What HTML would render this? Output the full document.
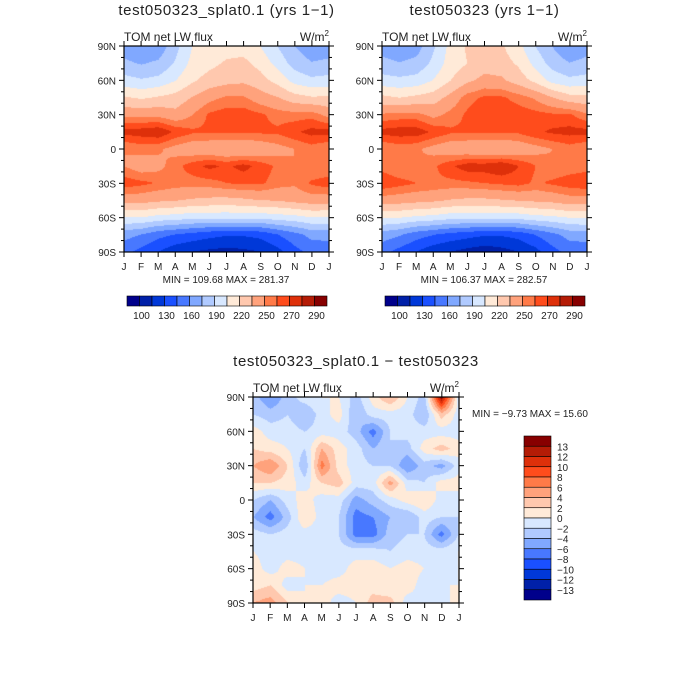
<!DOCTYPE html>
<html><head><meta charset="utf-8">
<style>
html,body{margin:0;padding:0;background:#fff;}
#wrap{position:relative;width:700px;height:700px;overflow:hidden;}
canvas{position:absolute;}
svg{position:absolute;left:0;top:0;}
text{font-family:"Liberation Sans",sans-serif;fill:#222;}
</style></head>
<body>
<div id="wrap">
<canvas id="c1" width="205" height="206" style="left:124px;top:46px"></canvas>
<canvas id="c2" width="205" height="206" style="left:382px;top:46px"></canvas>
<canvas id="c3" width="206" height="206" style="left:253px;top:397px"></canvas>
<svg id="s" width="700" height="700"></svg>
</div>
<script>
const months = ["J","F","M","A","M","J","J","A","S","O","N","D","J"];
const latLabels = ["90N","60N","30N","0","30S","60S","90S"];
const colors = ['#00008b','#0020a8','#0038d8','#1a50ff','#4878ff','#80a8ff','#b0caff','#d8e8ff','#ffead8','#ffc8ae','#ffa27c','#ff7a48','#ff4c1c','#de300a','#b41c06','#870000'];
const levelsAbs = [100,115,130,145,160,175,190,205,220,235,250,260,270,280,290];
const absLabels = ["100","130","160","190","220","250","270","290"];
const levelsDiff = [-13,-12,-10,-8,-6,-4,-2,0,2,4,6,8,10,12,13];
const diffLabels = ["13","12","10","8","6","4","2","0","-2","-4","-6","-8","-10","-12","-13"];
// rows: 90N..90S every 15 deg; cols Jan..Jan
const fieldA = [
[168,162,165,185,205,212,214,214,205,190,175,166,168],
[178,174,178,192,210,216,222,224,215,200,184,176,178],
[196,192,195,205,218,226,230,232,226,215,200,194,196],
[222,218,222,226,236,246,252,252,242,236,226,222,222],
[246,246,246,240,250,262,266,266,262,256,255,256,246],
[274,276,279,268,262,262,262,262,262,262,268,274,274],
[250,254,252,245,240,238,235,235,240,245,250,255,250],
[250,242,246,256,266,273,268,274,266,258,250,250,250],
[266,263,259,255,255,256,260,262,262,255,252,262,266],
[242,241,238,236,233,231,230,232,235,236,240,243,242],
[205,205,200,198,195,195,195,195,195,198,200,205,205],
[166,160,150,145,140,135,132,132,135,145,155,165,166],
[150,140,130,120,115,112,110,112,115,125,140,150,150]];
const fieldB = [
[168,162,168,188,210,222,224,222,210,190,175,160,168],
[180,176,180,194,212,220,228,226,218,200,184,176,180],
[196,194,196,206,220,232,240,238,228,216,200,194,196],
[224,220,224,228,240,256,262,262,256,248,236,226,224],
[252,254,254,246,254,262,268,266,266,264,262,262,252],
[274,276,276,268,262,262,262,262,262,268,272,274,274],
[250,254,252,245,240,238,235,235,240,245,250,255,250],
[256,250,250,258,268,276,276,280,270,260,252,254,256],
[268,264,260,258,257,258,260,262,264,258,262,266,268],
[244,242,240,238,234,232,232,234,236,238,240,244,244],
[207,206,202,200,196,196,196,196,196,200,202,206,207],
[168,162,152,146,140,136,132,132,136,146,156,166,168],
[150,140,130,120,115,110,106,110,115,125,140,150,150]];
const fieldD = [
[-3,-6,-3,-1,0,0,-3,1,4,0,-3,14,-1],
[-2,-3,-2,-4,-1,1,-4,-1,-1,-1,-4,3,-1],
[1,-1,-1,-2,-1,-1,-3,-7,-2,-1,-1,-1,-1],
[2,1,0,-2,4,1,-1,-4,-2,-3,1,3,1],
[4,6,2,-4,7,1,-1,-2,-2,-6,-3,-5,-1],
[2,2,1,-1,2,3,-1,-1,5,-1,-2,1,1],
[-2,-4,-1,1,-1,-1,-5,-3,-1,1,2,-1,-1],
[-4,-7,-3,2,-1,-2,-7,-6,-4,-4,-1,-2,-2],
[-1,-2,-1,-1,-1,-2,-7,-7,-3,-2,-2,-7,-2],
[0,-1,-1,-1,-1,-1,-1,-1,-2,-1,-1,-1,0],
[1,-1,1,0,-1,-1,1,1,0,1,0,-1,0],
[1,2,-1,0,0,1,1,1,0,1,-1,0,0],
[4,5,2,0,1,-1,0,3,3,-1,0,-1,1]];

function hex(c){return [parseInt(c.slice(1,3),16),parseInt(c.slice(3,5),16),parseInt(c.slice(5,7),16)];}
const rgb = colors.map(hex);
function idx(v,lev){let i=0;while(i<lev.length&&v>=lev[i])i++;return i;}
function fill(id,field,lev){
  const cv=document.getElementById(id),ctx=cv.getContext('2d');
  const W=cv.width,H=cv.height,img=ctx.createImageData(W,H);
  const nr=field.length,nc=field[0].length;
  for(let y=0;y<H;y++){const fy=y/(H-1)*(nr-1);const r0=Math.min(Math.floor(fy),nr-2),sy=fy-r0;
    for(let x=0;x<W;x++){const fx=x/(W-1)*(nc-1);const c0=Math.min(Math.floor(fx),nc-2),sx=fx-c0;
      const v=(field[r0][c0]*(1-sx)+field[r0][c0+1]*sx)*(1-sy)+(field[r0+1][c0]*(1-sx)+field[r0+1][c0+1]*sx)*sy;
      const c=rgb[idx(v,lev)];const p=(y*W+x)*4;img.data[p]=c[0];img.data[p+1]=c[1];img.data[p+2]=c[2];img.data[p+3]=255;}}
  ctx.putImageData(img,0,0);
}
fill('c1',fieldA,levelsAbs);fill('c2',fieldB,levelsAbs);fill('c3',fieldD,levelsDiff);

const svg=document.getElementById('s');const NS='http://www.w3.org/2000/svg';
function el(t,a,txt){const e=document.createElementNS(NS,t);for(const k in a)e.setAttribute(k,a[k]);if(txt!==undefined)e.textContent=txt;svg.appendChild(e);return e;}
function panel(x0,y0,w,h,title,prefix){
  let t=el('text',{x:x0+w/2,y:y0-31,'font-size':15,'text-anchor':'middle','letter-spacing':0.6},title);
  
  t=el('text',{x:x0,y:y0-5,'font-size':12},'TOM  net  LW  flux');
  
  t=el('text',{x:x0+w,y:y0-5,'font-size':12,'text-anchor':'end'});
  t.innerHTML='W/m<tspan dy="-5" font-size="8">2</tspan>';
  
  const f=el('rect',{x:x0,y:y0,width:w,height:h,fill:'none',stroke:'#000','stroke-width':1.2});
  
  for(let i=0;i<=18;i++){const y=y0+h*i/18;const L=i%3===0?5:3;
    el('line',{x1:x0-L,y1:y,x2:x0,y2:y,stroke:'#000'});el('line',{x1:x0+w,y1:y,x2:x0+w+L,y2:y,stroke:'#000'});}
  latLabels.forEach((s,i)=>{const y=y0+h*i/6;const tt=el('text',{x:x0-8,y:y+4,'font-size':10,'text-anchor':'end'},s);
    });
  months.forEach((s,i)=>{const x=x0+w*i/12;
    el('line',{x1:x,y1:y0+h,x2:x,y2:y0+h+5,stroke:'#000'});el('line',{x1:x,y1:y0,x2:x,y2:y0-5,stroke:'#000'});
    const tt=el('text',{x:x,y:y0+h+18,'font-size':10,'text-anchor':'middle'},s);
    });
}
panel(124,46,205,206,'test050323_splat0.1  (yrs  1\u22121)','left');
panel(382,46,205,206,'test050323  (yrs  1\u22121)','right');
panel(253,397,206,206,'test050323_splat0.1  \u2212  test050323','diff');
function stat(x,y,s,a,name){const t=el('text',{x:x,y:y,'font-size':10,'text-anchor':a||'middle'},s);}
stat(226,283,'MIN = 109.68  MAX = 281.37',null,'left-min-max');
stat(484,283,'MIN = 106.37  MAX = 282.57',null,'right-min-max');
stat(472,417,'MIN =   \u22129.73  MAX =   15.60','start','diff-min-max');
function hbar(x0,prefix){const w=200/16;
  colors.forEach((c,i)=>{const r=el('rect',{x:x0+i*w,y:296,width:w,height:10,fill:c,stroke:'#000','stroke-width':0.6});
    });
  absLabels.forEach((s,i)=>{const t=el('text',{x:x0+(1+2*i)*w+2,y:319,'font-size':10,'text-anchor':'middle'},s);
    });
}
hbar(127,'left');hbar(385,'right');
(function(){const x0=524,y0=436,h=164/16;
  colors.slice().reverse().forEach((c,i)=>{const r=el('rect',{x:x0,y:y0+i*h,width:27,height:h,fill:c,stroke:'#000','stroke-width':0.6});
    });
  diffLabels.forEach((s,i)=>{const t=el('text',{x:557,y:y0+(i+1)*h+4,'font-size':10},s.replace('-','\u2212'));
    });
})();
</script>
</body></html>
